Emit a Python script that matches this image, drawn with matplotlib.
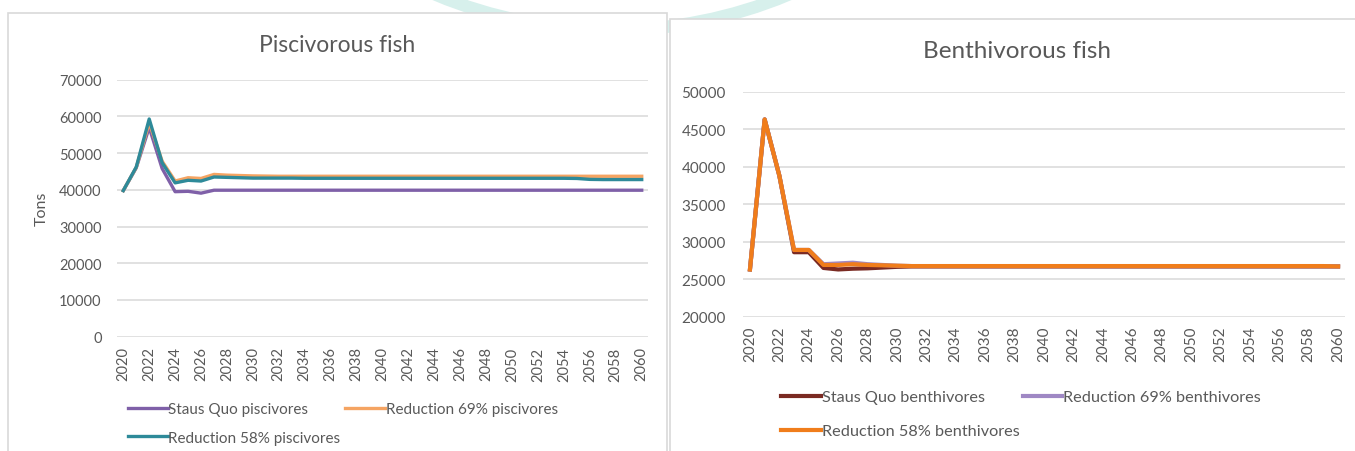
import numpy as np
import matplotlib
matplotlib.use('Agg')
import matplotlib.pyplot as plt
from matplotlib.patches import Rectangle, Circle
from matplotlib.transforms import IdentityTransform

plt.rcParams['font.family'] = ['Lato', 'DejaVu Sans']

years = list(range(2020, 2061))
tick_years = list(range(2020, 2061, 2))

# Piscivorous fish (tons)
pisc_status_quo = [39800, 46000, 57000, 45800, 39500, 39600, 39100, 39900, 39900, 39900,
                   39900, 39900, 39900, 39900, 39900, 39900, 39900, 39900, 39900, 39900,
                   39900, 39900, 39900, 39900, 39900, 39900, 39900, 39900, 39900, 39900,
                   39900, 39900, 39900, 39900, 39900, 39900, 39900, 39900, 39900, 39900, 39900]
pisc_red69 = [39800, 46100, 58300, 47800, 42400, 43300, 43100, 44200, 44000, 43900,
              43800, 43750, 43700, 43700, 43700, 43700, 43700, 43700, 43700, 43700,
              43700, 43700, 43700, 43700, 43700, 43700, 43700, 43700, 43700, 43700,
              43700, 43700, 43700, 43700, 43700, 43700, 43700, 43700, 43700, 43700, 43700]
pisc_red58 = [39800, 46200, 59300, 47400, 41900, 42600, 42400, 43500, 43400, 43300,
              43200, 43200, 43200, 43200, 43150, 43150, 43150, 43150, 43150, 43150,
              43150, 43150, 43150, 43150, 43150, 43150, 43150, 43150, 43150, 43150,
              43150, 43150, 43150, 43150, 43150, 43100, 42850, 42800, 42800, 42800, 42800]

# Benthivorous fish (tons)
bent_status_quo = [26300, 46300, 38800, 28600, 28600, 26500, 26300, 26400, 26450, 26550,
                   26650, 26700, 26700, 26700, 26700, 26700, 26700, 26700, 26700, 26700,
                   26700, 26700, 26700, 26700, 26700, 26700, 26700, 26700, 26700, 26700,
                   26700, 26700, 26700, 26700, 26700, 26700, 26700, 26700, 26700, 26700, 26700]
bent_red69 = [26300, 46300, 38800, 28900, 28900, 27000, 27100, 27200, 27000, 26900,
              26800, 26750, 26750, 26750, 26750, 26750, 26750, 26750, 26750, 26750,
              26750, 26750, 26750, 26750, 26750, 26750, 26750, 26750, 26750, 26750,
              26750, 26750, 26750, 26750, 26750, 26750, 26750, 26750, 26750, 26750, 26700]
bent_red58 = [26300, 46300, 38800, 28900, 28900, 26900, 26900, 27000, 26900, 26850,
              26800, 26750, 26750, 26750, 26750, 26750, 26750, 26750, 26750, 26750,
              26750, 26750, 26750, 26750, 26750, 26750, 26750, 26750, 26750, 26750,
              26750, 26750, 26750, 26750, 26750, 26750, 26750, 26750, 26750, 26750, 26700]

W, H = 1355, 452
fig = plt.figure(figsize=(W / 100, H / 100), dpi=100)
fig.patch.set_facecolor('white')

# faint decorative arc behind the panels
arc = Circle((612, H + 427), 458, transform=IdentityTransform(), fill=False,
             edgecolor='#d7f0ec', linewidth=9, zorder=-3)
fig.add_artist(arc)

# panel frames
fig.add_artist(Rectangle((8 / W, -0.1), 659 / W, 1.1 - 14 / H, transform=fig.transFigure,
                         facecolor='white', edgecolor='#d9d9d9', linewidth=1.2, zorder=-2))
fig.add_artist(Rectangle((670 / W, -0.1), 700 / W, 1.1 - 20 / H, transform=fig.transFigure,
                         facecolor='white', edgecolor='#d9d9d9', linewidth=1.2, zorder=-2))

txt = '#595959'
grid = '#d9d9d9'


def style_axis(ax, ylim, yticks, xpad, ypad, size):
    ax.set_facecolor('none')
    ax.set_xlim(2019.5, 2060.5)
    ax.set_ylim(*ylim)
    ax.set_yticks(yticks)
    ax.set_yticklabels([str(v) for v in yticks])
    ax.set_xticks(tick_years)
    ax.set_xticklabels([str(y) for y in tick_years], rotation=90)
    ax.tick_params(axis='both', length=0, labelsize=size, labelcolor=txt)
    ax.tick_params(axis='x', pad=xpad)
    ax.tick_params(axis='y', pad=ypad)
    for s in ax.spines.values():
        s.set_visible(False)
    ax.grid(axis='y', color=grid, linewidth=1.1)
    ax.set_axisbelow(True)


# left panel
ax1 = fig.add_axes([116.8 / W, 1 - 337.7 / H, 531.4 / W, 257.0 / H])
style_axis(ax1, (0, 70000), list(range(0, 70001, 10000)), 7, 11, 10.5)
l1, = ax1.plot(years, pisc_status_quo, color='#7f60a8', lw=2.4, label='Staus Quo piscivores')
l2, = ax1.plot(years, pisc_red69, color='#f5a462', lw=2.4, label='Reduction 69% piscivores')
l3, = ax1.plot(years, pisc_red58, color='#2e8a99', lw=2.4, label='Reduction 58% piscivores')
ax1.set_ylabel('Tons', fontsize=11.5, color=txt, labelpad=7)
fig.text(337 / W, 1 - 45 / H, 'Piscivorous fish', ha='center', va='center', fontsize=16.5, color=txt)
fig.legend([l1, l3, l2], [l1.get_label(), l3.get_label(), l2.get_label()], ncol=2,
           loc='upper left', bbox_to_anchor=(128 / W, 1 - 403 / H), frameon=False,
           fontsize=11, labelcolor=txt, handlelength=2.6, handletextpad=0.05,
           columnspacing=0.3, labelspacing=0.95, borderaxespad=0, borderpad=0)

# right panel
ax2 = fig.add_axes([742.6 / W, 1 - 317.7 / H, 602.8 / W, 225.0 / H])
style_axis(ax2, (20000, 50000), list(range(20000, 50001, 5000)), 6, 12, 11)
r1, = ax2.plot(years, bent_status_quo, color='#7a2a22', lw=3.0, label='Staus Quo benthivores')
r2, = ax2.plot(years, bent_red69, color='#9f88c4', lw=3.0, label='Reduction 69% benthivores')
r3, = ax2.plot(years, bent_red58, color='#f07d1b', lw=3.0, label='Reduction 58% benthivores')
fig.text(1017 / W, 1 - 51 / H, 'Benthivorous fish', ha='center', va='center', fontsize=17.5, color=txt)
fig.legend([r1, r3, r2], [r1.get_label(), r3.get_label(), r2.get_label()], ncol=2,
           loc='upper left', bbox_to_anchor=(781 / W, 1 - 391 / H), frameon=False,
           fontsize=11.7, labelcolor=txt, handlelength=2.45, handletextpad=0.05,
           columnspacing=0.2, labelspacing=1.2, borderaxespad=0, borderpad=0)

fig.savefig('out.png', dpi=100, facecolor='white')
